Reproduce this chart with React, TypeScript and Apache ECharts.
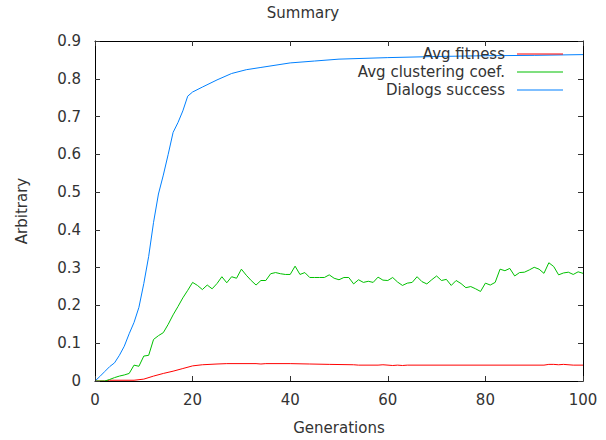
import React, { useEffect, useRef } from "react";
import * as echarts from "echarts";

const titleText = "Summary";
const xName = "Generations";
const yName = "Arbitrary";
const seriesNames = ["Avg fitness", "Avg clustering coef.", "Dialogs success"];
const seriesColors = ["#ff0000", "#00c000", "#0080ff"];

const fitnessGens = [0, 2, 3, 8, 10, 12, 14, 16, 18, 20, 22, 25, 27, 33, 34, 35, 40, 44, 48, 53, 54, 58, 59, 61, 62, 63, 64, 92, 93, 94, 95, 96, 98, 100];
const fitnessVals = [0, 0, 0.002, 0.002, 0.005, 0.013, 0.02, 0.026, 0.033, 0.04, 0.043, 0.045, 0.046, 0.046, 0.045, 0.046, 0.046, 0.045, 0.044, 0.043, 0.042, 0.042, 0.043, 0.041, 0.042, 0.041, 0.042, 0.042, 0.044, 0.044, 0.043, 0.044, 0.042, 0.042];

const clusterGens = Array.from({ length: 101 }, (_, i) => i);
const clusterVals = [
  0, 0, 0, 0.004, 0.009, 0.013, 0.016, 0.02, 0.042, 0.039,
  0.066, 0.068, 0.11, 0.12, 0.128, 0.15, 0.175, 0.197, 0.22, 0.24,
  0.261, 0.253, 0.242, 0.254, 0.244, 0.258, 0.276, 0.26, 0.276, 0.272,
  0.296, 0.28, 0.266, 0.254, 0.266, 0.266, 0.284, 0.287, 0.284, 0.282,
  0.282, 0.304, 0.282, 0.287, 0.274, 0.274, 0.274, 0.274, 0.281, 0.272,
  0.268, 0.274, 0.274, 0.257, 0.268, 0.261, 0.264, 0.261, 0.275, 0.267,
  0.266, 0.274, 0.262, 0.253, 0.259, 0.261, 0.276, 0.263, 0.257, 0.268,
  0.278, 0.266, 0.269, 0.253, 0.266, 0.258, 0.247, 0.25, 0.244, 0.237,
  0.259, 0.254, 0.261, 0.296, 0.292, 0.298, 0.278, 0.287, 0.288, 0.294,
  0.301, 0.296, 0.285, 0.313, 0.303, 0.281, 0.286, 0.288, 0.282, 0.289,
  0.285,
];

const dialogGens = [0, 1, 2, 3, 4, 5, 6, 7, 8, 9, 10, 11, 12, 13, 14, 15, 16, 17, 18, 19, 20, 22, 25, 28, 31, 34, 40, 45, 50, 60, 70, 80, 90, 100];
const dialogVals = [0, 0.012, 0.025, 0.038, 0.048, 0.068, 0.092, 0.125, 0.155, 0.195, 0.258, 0.33, 0.42, 0.495, 0.545, 0.6, 0.658, 0.684, 0.715, 0.754, 0.765, 0.778, 0.797, 0.814, 0.824, 0.83, 0.842, 0.847, 0.852, 0.856, 0.859, 0.861, 0.862, 0.864];

const xTicks = { min: 0, max: 100, interval: 20 };
const yTicks = { min: 0, max: 0.9, interval: 0.1 };

const pair = (g: number[], v: number[]) => g.map((x, i) => [x, v[i]]);

export default function App() {
  const ref = useRef<HTMLDivElement>(null);
  useEffect(() => {
    if (!ref.current) return;
    const chart = echarts.init(ref.current, undefined, { renderer: "svg" });
    const font = "DejaVu Sans";
    const textColor = "#333";
    const axisCommon = {
      type: "value" as const,
      z: 5,
      splitLine: { show: false },
      axisLine: { show: true, onZero: false, lineStyle: { color: "#000", width: 1 } },
      axisTick: { show: true, inside: true, length: 5, lineStyle: { color: "#333" } },
    };
    chart.setOption({
      animation: false,
      backgroundColor: "#fff",
      title: {
        text: titleText,
        left: "center",
        top: 0,
        textStyle: { fontFamily: font, fontSize: 15, fontWeight: "normal", color: textColor },
      },
      legend: {
        orient: "vertical",
        right: 43,
        top: 46,
        padding: 0,
        align: "right",
        itemWidth: 46,
        itemHeight: 12,
        itemGap: 2,
        icon: "path://M0,7 L46,7 L46,8 L0,8 Z",
        textStyle: { fontFamily: font, fontSize: 15, color: textColor, lineHeight: 16, padding: [0, 7, 0, 0] },
        data: seriesNames,
      },
      grid: { left: 95, top: 41, width: 488, height: 342, containLabel: false, show: false },
      xAxis: [
        {
          ...axisCommon,
          position: "bottom",
          min: xTicks.min,
          max: xTicks.max,
          interval: xTicks.interval,
          name: xName,
          nameLocation: "middle",
          nameGap: 39,
          nameTextStyle: { fontFamily: font, fontSize: 15, color: textColor },
          axisLabel: { fontFamily: font, fontSize: 15, color: textColor, margin: 11 },
        },
        {
          ...axisCommon,
          position: "top",
          min: xTicks.min,
          max: xTicks.max,
          interval: xTicks.interval,
          axisLabel: { show: false },
        },
      ],
      yAxis: [
        {
          ...axisCommon,
          position: "left",
          min: yTicks.min,
          max: yTicks.max,
          interval: yTicks.interval,
          name: yName,
          nameLocation: "middle",
          nameGap: 66,
          nameTextStyle: { fontFamily: font, fontSize: 15, color: textColor },
          axisLabel: { fontFamily: font, fontSize: 15, color: textColor, margin: 14 },
        },
        {
          ...axisCommon,
          position: "right",
          min: yTicks.min,
          max: yTicks.max,
          interval: yTicks.interval,
          axisLabel: { show: false },
        },
      ],
      series: [
        { name: seriesNames[0], type: "line", data: pair(fitnessGens, fitnessVals) },
        { name: seriesNames[1], type: "line", data: pair(clusterGens, clusterVals) },
        { name: seriesNames[2], type: "line", data: pair(dialogGens, dialogVals) },
      ].map((s, i) => ({
        ...s,
        symbol: "none",
        showSymbol: false,
        z: 2,
        color: seriesColors[i],
        itemStyle: { color: seriesColors[i] },
        lineStyle: { color: seriesColors[i], width: 1 },
      })),
    });
    return () => chart.dispose();
  }, []);
  return <div ref={ref} style={{ width: 606, height: 440, position: "absolute", left: 0, top: 0 }} />;
}
